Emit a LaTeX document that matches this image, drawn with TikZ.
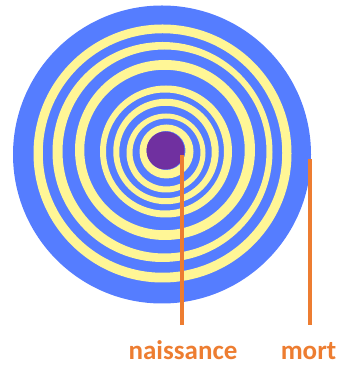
\documentclass[tikz,border=0pt]{standalone}
\usepackage{fontspec}
\setmainfont{Carlito}
\usetikzlibrary{positioning,calc}

\definecolor{woodblue}{RGB}{85,125,255}
\definecolor{woodyellow}{RGB}{255,246,150}
\definecolor{pithpurple}{RGB}{112,48,160}
\definecolor{stemorange}{RGB}{237,125,49}

\begin{document}
\begin{tikzpicture}[x=1pt,y=1pt,
    agelabel/.style={font=\fontsize{27}{30}\selectfont\bfseries, text=stemorange,
      anchor=base, text height=19pt, text depth=0pt, inner xsep=0pt, inner ysep=16pt, outer sep=0pt},
    stem/.style={draw=stemorange, line width=3.5pt}]
  \useasboundingbox (0,0) rectangle (342,366);
  % Trunk
  \fill[woodblue] (162,211.5) circle (149);
  % Rings (outer circle / inner circle)
  \foreach \xa/\ya/\ra/\xb/\yb/\rb in {
      166.5/214.5/27/166/215.5/19.5,
      166/213/39.5/166.5/213.5/34,
      166/214.5/52.75/165.5/214/46.25,
      166/214.5/66/165/214.5/59,
      165/216/90/164.5/216/80.25,
      162.5/214/110/164.5/214.5/102,
      162.5/212.5/129/162.5/213/119.75} {
    \fill[woodyellow, even odd rule] (\xa,\ya) circle (\ra) (\xb,\yb) circle (\rb);
  }
  % Pith
  \node[circle, fill=pithpurple, minimum size=38pt, inner sep=0pt] (pith) at (165.5,215.5) {};
  % Labels
  \node[agelabel] (naissance) at (183,6) {naissance};
  \node[agelabel] (mort) at (308.5,6) {mort};
  \coordinate (birth) at (182,211);
  \coordinate (death) at (310,207);
  \draw[stem] (birth) -- (birth |- naissance.north);
  \draw[stem] (death) -- (death |- mort.north);
\end{tikzpicture}
\end{document}
